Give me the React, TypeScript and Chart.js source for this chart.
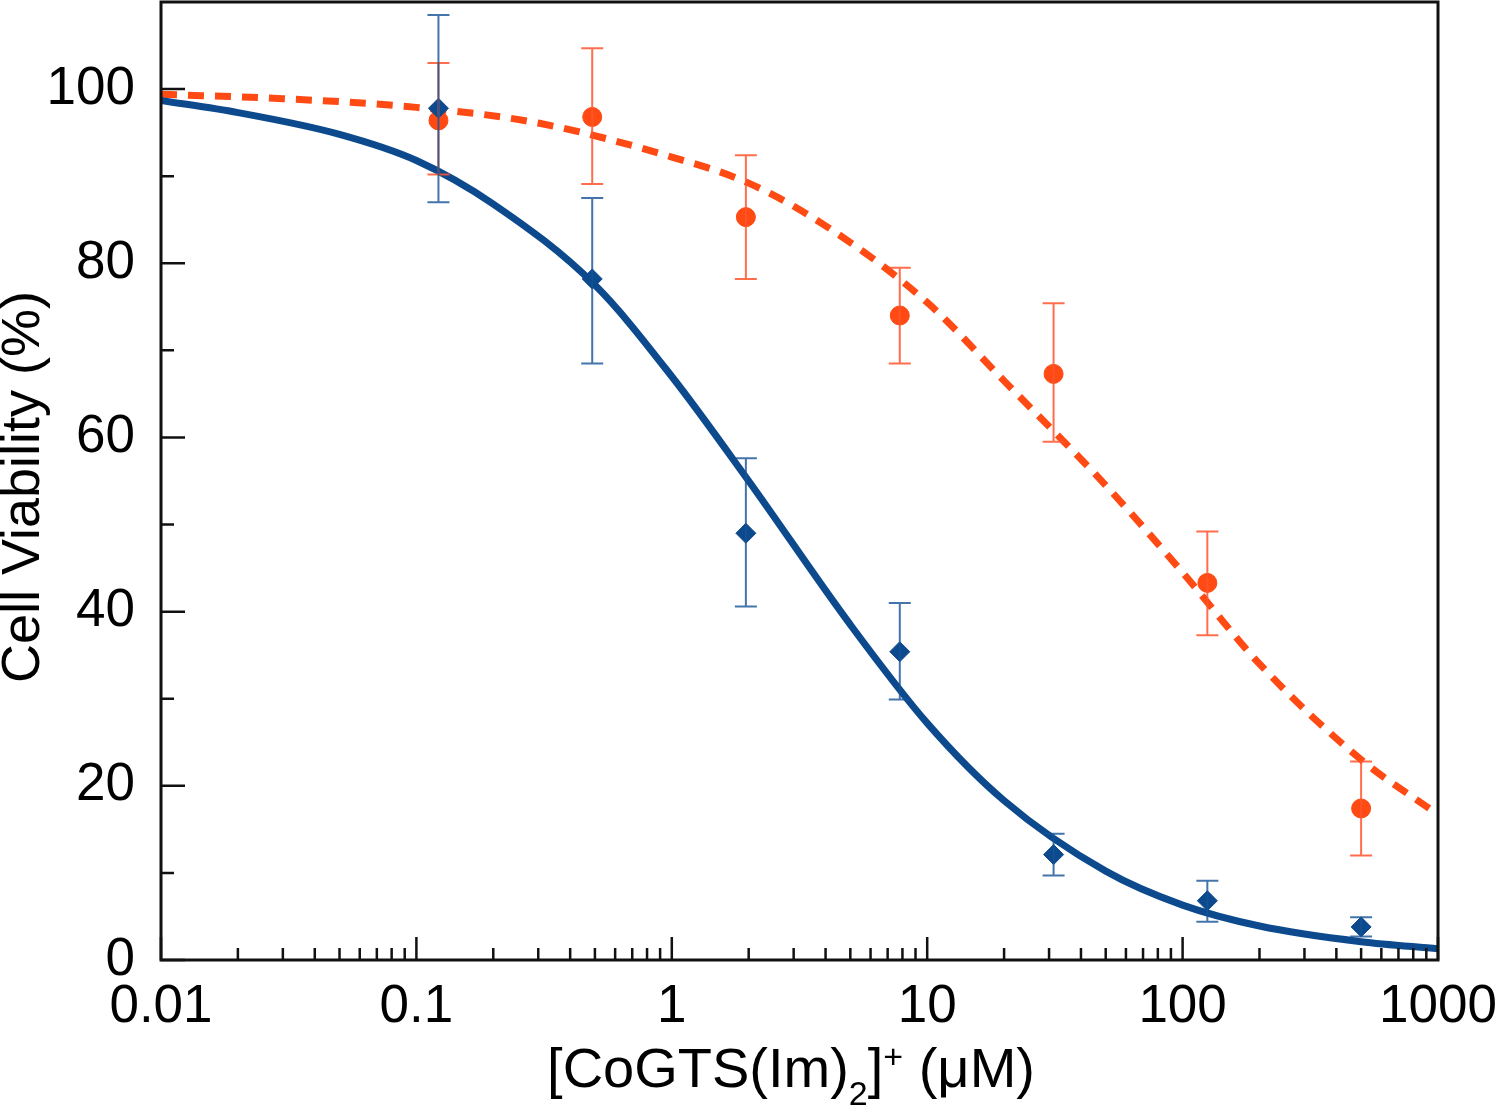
import React, { useEffect, useRef } from 'react';
import { Chart, registerables } from 'chart.js';

Chart.register(...registerables);

// ---- data ----
const concentrations = [0.122, 0.488, 1.95, 7.81, 31.25, 125, 500];

const blueMeans = [97.8, 78.2, 49.0, 35.4, 12.1, 6.8, 3.8];
const blueErrHigh = [108.5, 87.5, 57.6, 41.0, 14.5, 9.1, 4.9];
const blueErrLow = [87.0, 68.5, 40.6, 29.9, 9.7, 4.4, 2.7];

const orangeMeans = [96.4, 96.8, 85.3, 74.0, 67.3, 43.3, 17.4];
const orangeErrHigh = [103.0, 104.7, 92.4, 79.5, 75.4, 49.2, 22.8];
const orangeErrLow = [90.2, 89.1, 78.2, 68.5, 59.5, 37.3, 12.0];

const blueFitX = [0.01, 0.02, 0.05, 0.1, 0.2, 0.5, 1, 2, 5, 10, 20, 50, 100, 200, 500, 1000];
const blueFitY = [98.7, 97.3, 94.8, 91.8, 86.8, 77.5, 67.0, 55.0, 38.5, 27.2, 18.3, 10.2, 6.3, 3.9, 2.1, 1.3];

const orangeFitX = [0.01, 0.03, 0.1, 0.3, 1, 2, 4, 10, 20, 50, 100, 200, 500, 1000];
const orangeFitY = [99.4, 98.9, 97.9, 96.1, 92.2, 89.2, 84.3, 75.5, 66.5, 54.5, 44.5, 34.0, 23.0, 16.7];

const xMajorTicks = [0.01, 0.1, 1, 10, 100, 1000];
const xTickLabels = ['0.01', '0.1', '1', '10', '100', '1000'];
const xMinorMultipliers = [2, 3, 4, 5, 6, 7, 8, 9];
const yMajorTicks = [0, 20, 40, 60, 80, 100];
const yMinorTicks = [10, 30, 50, 70, 90];

const yTitle = 'Cell Viability (%)';
const xTitleParts = [
  { text: '[CoGTS(Im)', kind: 'main' },
  { text: '2', kind: 'sub' },
  { text: ']', kind: 'main' },
  { text: '+', kind: 'sup' },
  { text: ' (μM)', kind: 'main' },
];

const BLUE = '#0c4a8d';
const ORANGE = '#ff4a14';
const BLUE_ERR = 'rgba(20, 82, 150, 0.8)';
const ORANGE_ERR = 'rgba(255, 85, 45, 0.85)';
const FONT = '"Liberation Sans", Arial, Helvetica, sans-serif';

const overlayPlugin = {
  id: 'overlay',
  afterDatasetsDraw(chart: any) {
    const { ctx } = chart;
    const x = chart.scales.x;
    const y = chart.scales.y;
    const drawErr = (lo: number[], hi: number[], color: string) => {
      ctx.save();
      ctx.strokeStyle = color;
      ctx.lineWidth = 2;
      concentrations.forEach((c, i) => {
        const px = x.getPixelForValue(c);
        const pTop = y.getPixelForValue(hi[i]);
        const pBot = y.getPixelForValue(lo[i]);
        ctx.beginPath();
        ctx.moveTo(px, pTop);
        ctx.lineTo(px, pBot);
        ctx.moveTo(px - 11, pTop);
        ctx.lineTo(px + 11, pTop);
        ctx.moveTo(px - 11, pBot);
        ctx.lineTo(px + 11, pBot);
        ctx.stroke();
      });
      ctx.restore();
    };
    drawErr(orangeErrLow, orangeErrHigh, ORANGE_ERR);
    drawErr(blueErrLow, blueErrHigh, BLUE_ERR);
  },
  afterDraw(chart: any) {
    const { ctx, chartArea } = chart;
    const x = chart.scales.x;
    const y = chart.scales.y;
    const { left, right, top, bottom } = chartArea;
    ctx.save();
    ctx.strokeStyle = '#111';
    ctx.lineWidth = 2.5;
    ctx.beginPath();
    yMajorTicks.forEach((v) => {
      const py = y.getPixelForValue(v);
      ctx.moveTo(left, py);
      ctx.lineTo(left + 24, py);
    });
    yMinorTicks.forEach((v) => {
      const py = y.getPixelForValue(v);
      ctx.moveTo(left, py);
      ctx.lineTo(left + 13, py);
    });
    xMajorTicks.forEach((v, i) => {
      const px = x.getPixelForValue(v);
      ctx.moveTo(px, bottom);
      ctx.lineTo(px, bottom - 23);
      if (i < xMajorTicks.length - 1) {
        xMinorMultipliers.forEach((m) => {
          const pm = x.getPixelForValue(v * m);
          ctx.moveTo(pm, bottom);
          ctx.lineTo(pm, bottom - 12);
        });
      }
    });
    ctx.stroke();
    ctx.lineWidth = 3;
    ctx.strokeRect(left, top, right - left, bottom - top);

    // y title
    ctx.fillStyle = '#000';
    ctx.save();
    ctx.translate(24, 487);
    ctx.rotate(-Math.PI / 2);
    ctx.font = `54px ${FONT}`;
    ctx.textAlign = 'center';
    ctx.textBaseline = 'middle';
    ctx.fillText(yTitle, 0, 0);
    ctx.restore();

    // x title with sub/superscript
    const fontFor = (k: string) => (k === 'main' ? `56px ${FONT}` : `34px ${FONT}`);
    const dyFor = (k: string) => (k === 'sub' ? 18 : k === 'sup' ? -19 : 0);
    let total = 0;
    xTitleParts.forEach((p) => {
      ctx.font = fontFor(p.kind);
      total += ctx.measureText(p.text).width;
    });
    let cx = 791 - total / 2;
    const baseline = 1087;
    ctx.textAlign = 'left';
    ctx.textBaseline = 'alphabetic';
    xTitleParts.forEach((p) => {
      ctx.font = fontFor(p.kind);
      ctx.fillText(p.text, cx, baseline + dyFor(p.kind));
      cx += ctx.measureText(p.text).width;
    });
    ctx.restore();
  },
};

const zeroPadding = (scale: any) => {
  scale.paddingTop = 0;
  scale.paddingBottom = 0;
  scale.paddingLeft = 0;
  scale.paddingRight = 0;
};

export default function App() {
  const canvasRef = useRef<HTMLCanvasElement | null>(null);

  useEffect(() => {
    if (!canvasRef.current) return;
    Chart.defaults.font.family = FONT;
    const toXY = (xs: number[], ys: number[]) => xs.map((v, i) => ({ x: v, y: ys[i] }));

    const chart = new Chart(canvasRef.current, {
      type: 'line',
      data: {
        datasets: [
          {
            label: 'Blue data',
            data: toXY(concentrations, blueMeans),
            showLine: false,
            pointStyle: 'rectRot',
            pointRadius: 10,
            pointBackgroundColor: BLUE,
            pointBorderColor: BLUE,
            pointBorderWidth: 1,
            order: 1,
          },
          {
            label: 'Orange data',
            data: toXY(concentrations, orangeMeans),
            showLine: false,
            pointStyle: 'circle',
            pointRadius: 9.5,
            pointBackgroundColor: ORANGE,
            pointBorderColor: ORANGE,
            pointBorderWidth: 1,
            order: 2,
          },
          {
            label: 'Blue fit',
            data: toXY(blueFitX, blueFitY),
            borderColor: BLUE,
            borderWidth: 7,
            pointRadius: 0,
            cubicInterpolationMode: 'monotone',
            fill: false,
            order: 3,
          },
          {
            label: 'Orange fit',
            data: toXY(orangeFitX, orangeFitY),
            borderColor: ORANGE,
            borderWidth: 7,
            borderDash: [16, 11],
            borderCapStyle: 'butt',
            pointRadius: 0,
            cubicInterpolationMode: 'monotone',
            fill: false,
            order: 4,
          },
        ],
      },
      options: {
        animation: false,
        responsive: false,
        maintainAspectRatio: false,
        layout: { autoPadding: false, padding: { top: 2, right: 62, left: 0, bottom: 0 } },
        plugins: {
          legend: { display: false },
          tooltip: { enabled: false },
          title: { display: false },
        },
        scales: {
          x: {
            type: 'logarithmic',
            min: 0.01,
            max: 1000,
            grid: { display: false, drawTicks: false },
            border: { display: false },
            afterBuildTicks: (scale: any) => {
              scale.ticks = xMajorTicks.map((v) => ({ value: v }));
            },
            afterFit: (scale: any) => {
              scale.height = 146;
              zeroPadding(scale);
            },
            ticks: {
              autoSkip: false,
              maxRotation: 0,
              minRotation: 0,
              padding: 16,
              color: '#000',
              font: { size: 53, family: FONT },
              callback: (value: any) => {
                const idx = xMajorTicks.indexOf(Number(value));
                return idx >= 0 ? xTickLabels[idx] : '';
              },
            },
          },
          y: {
            type: 'linear',
            min: 0,
            max: 110,
            grid: { display: false, drawTicks: false },
            border: { display: false },
            afterBuildTicks: (scale: any) => {
              scale.ticks = yMajorTicks.map((v) => ({ value: v }));
            },
            afterFit: (scale: any) => {
              scale.width = 161;
              zeroPadding(scale);
            },
            ticks: {
              padding: 26,
              color: '#000',
              font: { size: 53, family: FONT },
              callback: (value: any) => String(value),
            },
          },
        },
      },
      plugins: [overlayPlugin],
    } as any);

    return () => chart.destroy();
  }, []);

  return (
    <div style={{ position: 'fixed', left: 0, top: 0, width: 1500, height: 1106, background: '#fff' }}>
      <canvas ref={canvasRef} width={1500} height={1106} style={{ display: 'block' }} />
    </div>
  );
}
